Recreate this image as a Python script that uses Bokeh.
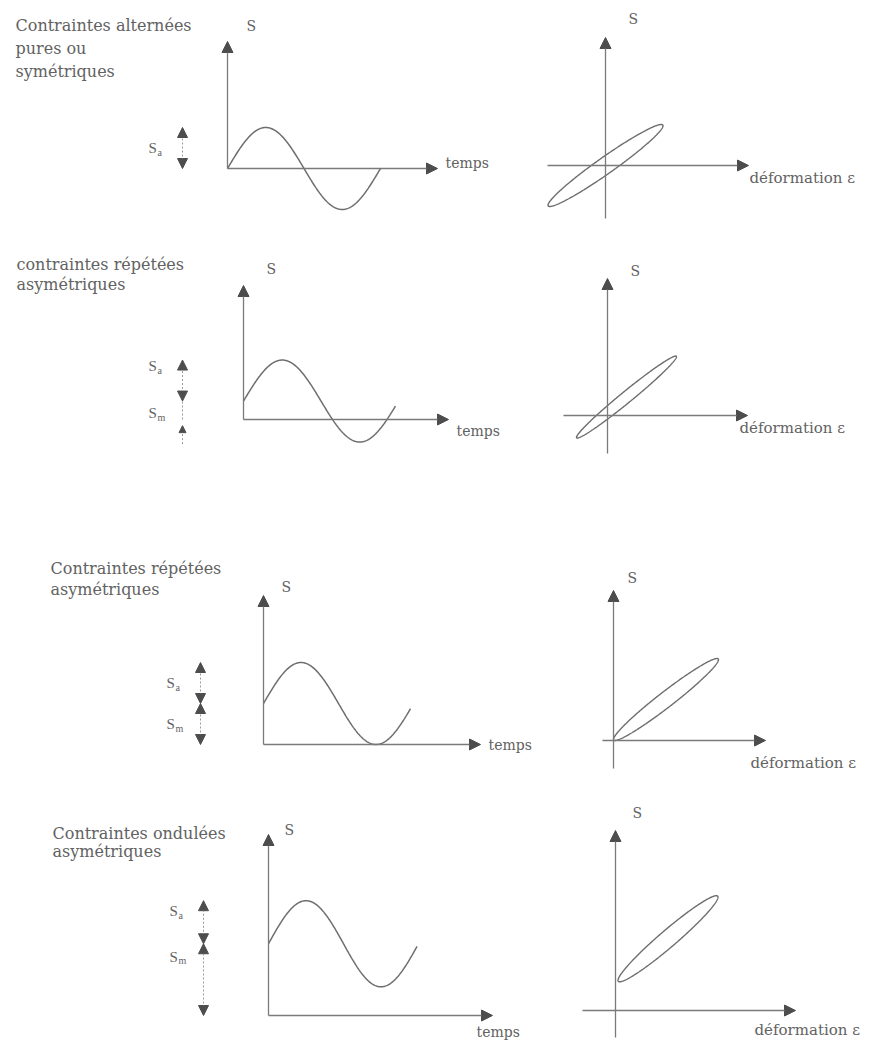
import numpy as np
from bokeh.plotting import figure
from bokeh.models import Range1d, Arrow, NormalHead
from bokeh.core.properties import value
from bokeh.embed import file_html
from bokeh.resources import INLINE

# ---------------------------------------------------------------
# Four kinds of cyclic loading: stress vs time and stress vs strain
# ---------------------------------------------------------------
titles = [
    ["Contraintes alternées", "pures ou", "symétriques"],
    ["contraintes répétées", "asymétriques"],
    ["Contraintes répétées", "asymétriques"],
    ["Contraintes ondulées", "asymétriques"],
]
s_mean = [0.0, 0.45, 1.0, 1.75]      # mean stress S_m
s_amp = [1.0, 1.0, 1.0, 1.05]        # stress amplitude S_a
n_cycles = [1.0, 0.98, 0.98, 0.99]   # length of each time trace, in periods
eps_mean = [0.0, 0.38, 1.05, 1.05]   # mean strain
eps_amp = [1.15, 1.0, 1.05, 1.0]     # strain amplitude
lag = [0.25, 0.18, 0.24, 0.26]       # phase lag of strain behind stress (rad)

label_stress = "S"
label_time = "temps"
label_strain = "déformation ε"
sub_amp = "a"
sub_mean = "m"

# ---------------------------------------------------------------
# Page layout (pixels from the top-left corner)
# ---------------------------------------------------------------
W, H = 869, 1044
KS = 41.0   # px per stress unit
KE = 50.0   # px per strain unit

LEFT = [
    dict(ox=227, oy=168, period=153, top=41, right=437, dim_x=182,
         sa_frac=0.5, sm_frac=0.5, s_lab=(246, 25), t_lab=(445, 162)),
    dict(ox=243, oy=419, period=155, top=285, right=448, dim_x=182,
         sa_frac=0.85, sm_frac=0.35, s_lab=(266, 268), t_lab=(456, 430)),
    dict(ox=263, oy=744, period=150, top=595, right=480, dim_x=200,
         sa_frac=0.5, sm_frac=0.5, s_lab=(281, 586), t_lab=(488, 744)),
    dict(ox=268, oy=1015, period=150, top=834, right=492, dim_x=203,
         sa_frac=0.75, sm_frac=0.82, s_lab=(284, 829), t_lab=(476, 1031)),
]
RIGHT = [
    dict(ox=605, oy=165, top=37, bottom=218, left=547, right=748,
         s_lab=(628, 18), e_lab=(749, 177)),
    dict(ox=607, oy=415, top=278, bottom=453, left=563, right=747,
         s_lab=(630, 270), e_lab=(739, 427)),
    dict(ox=613, oy=740, top=590, bottom=768, left=602, right=765,
         s_lab=(627, 577), e_lab=(750, 762)),
    dict(ox=615, oy=1010, top=830, bottom=1037, left=582, right=795,
         s_lab=(632, 812), e_lab=(754, 1029)),
]
TITLE = [
    dict(x=15, ys=[25, 48, 71]),
    dict(x=16, ys=[264, 284]),
    dict(x=50, ys=[568, 589]),
    dict(x=52, ys=[833, 851]),
]

LINE = "#6e6e6e"
AXIS = "#7a7a7a"
HEAD = "#4d4d4d"
DIM = "#9a9a9a"
TEXT = "#626262"
FONT = value("DejaVu Serif")
FONT_S = value("Liberation Serif")

p = figure(width=W, height=H, x_range=Range1d(0, W), y_range=Range1d(H, 0),
           output_backend="svg", toolbar_location=None, min_border=0,
           x_axis_location=None, y_axis_location=None)
p.grid.visible = False
p.outline_line_color = None
p.background_fill_color = "white"
p.border_fill_color = "white"

# one pair of ranges per panel, so each curve is drawn in its own units
xr, yr = {}, {}
for r in range(4):
    L, R = LEFT[r], RIGHT[r]
    xr[f"t{r}"] = Range1d(-L["ox"] / L["period"], (W - L["ox"]) / L["period"])
    yr[f"sl{r}"] = Range1d((L["oy"] - H) / KS, L["oy"] / KS)
    xr[f"e{r}"] = Range1d(-R["ox"] / KE, (W - R["ox"]) / KE)
    yr[f"sr{r}"] = Range1d((R["oy"] - H) / KS, R["oy"] / KS)
p.extra_x_ranges = xr
p.extra_y_ranges = yr


def head(size=11, color=HEAD):
    return NormalHead(size=size, fill_color=color, line_color=color, line_width=1)


def text(x, y, s, size="16px", font=FONT, align="left", **kw):
    p.text(x=[x], y=[y], text=[s], text_font=font, text_font_size=value(size),
           text_color=TEXT, text_align=align, text_baseline="middle", **kw)


def dim_label(x, y, sub, yname):
    text(x, y, label_stress, size="15px", font=FONT_S, y_range_name=yname)
    text(x + 9, y, sub, size="10px", font=FONT_S, y_offset=4, y_range_name=yname)


for r in range(4):
    L, R = LEFT[r], RIGHT[r]
    tn, sl, en, sr = f"t{r}", f"sl{r}", f"e{r}", f"sr{r}"
    sm, sa = s_mean[r], s_amp[r]

    # ---- titles
    for line, y in zip(titles[r], TITLE[r]["ys"]):
        text(TITLE[r]["x"], y, line, size="16px")

    # ---- stress vs time
    t_top = (L["oy"] - L["top"]) / KS
    t_end = (L["right"] - L["ox"]) / L["period"]
    p.add_layout(Arrow(end=head(), x_start=0, y_start=0, x_end=0, y_end=t_top,
                       line_color=AXIS, line_width=1.3, x_range_name=tn, y_range_name=sl))
    p.add_layout(Arrow(end=head(), x_start=0, y_start=0, x_end=t_end, y_end=0,
                       line_color=AXIS, line_width=1.3, x_range_name=tn, y_range_name=sl))
    t = np.linspace(0, n_cycles[r], 240)
    p.line(t, sm + sa * np.sin(2 * np.pi * t), line_color=LINE, line_width=1.5,
           x_range_name=tn, y_range_name=sl)
    text(*L["s_lab"], label_stress, size="14px")
    text(*L["t_lab"], label_time, size="14px")

    # ---- S_a and S_m dimension arrows
    dx = L["dim_x"]
    p.add_layout(Arrow(start=head(10), end=head(10), x_start=dx, y_start=sm,
                       x_end=dx, y_end=sm + sa, line_color=DIM, line_width=1,
                       line_dash="2 2", y_range_name=sl))
    dim_label(dx - 34, sm + L["sa_frac"] * sa, sub_amp, sl)
    if sm > 0:
        if sm >= 0.8 * sa:
            p.add_layout(Arrow(start=head(10), end=head(10), x_start=dx, y_start=0,
                               x_end=dx, y_end=sm, line_color=DIM, line_width=1,
                               line_dash="2 2", y_range_name=sl))
        else:
            # short span: the arrow comes in from below the zero line
            p.line([dx, dx], [0, sm], line_color=DIM, line_width=1, line_dash="2 2",
                   y_range_name=sl)
            p.add_layout(Arrow(end=head(7), x_start=dx, y_start=-0.6, x_end=dx, y_end=-0.15,
                               line_color=DIM, line_width=1, line_dash="2 2",
                               y_range_name=sl))
        dim_label(dx - 34, L["sm_frac"] * sm, sub_mean, sl)

    # ---- stress vs strain loop
    s_top = (R["oy"] - R["top"]) / KS
    s_bot = (R["oy"] - R["bottom"]) / KS
    e_left = (R["left"] - R["ox"]) / KE
    e_right = (R["right"] - R["ox"]) / KE
    p.add_layout(Arrow(end=head(), x_start=0, y_start=s_bot, x_end=0, y_end=s_top,
                       line_color=AXIS, line_width=1.3, x_range_name=en, y_range_name=sr))
    p.add_layout(Arrow(end=head(), x_start=e_left, y_start=0, x_end=e_right, y_end=0,
                       line_color=AXIS, line_width=1.3, x_range_name=en, y_range_name=sr))
    th = np.linspace(0, 2 * np.pi, 300)
    p.line(eps_mean[r] + eps_amp[r] * np.sin(th - lag[r]), sm + sa * np.sin(th),
           line_color=LINE, line_width=1.4, x_range_name=en, y_range_name=sr)
    text(*R["s_lab"], label_stress, size="14px")
    text(*R["e_lab"], label_strain, size="15px")

open("out.html", "w").write(file_html(p, INLINE))
